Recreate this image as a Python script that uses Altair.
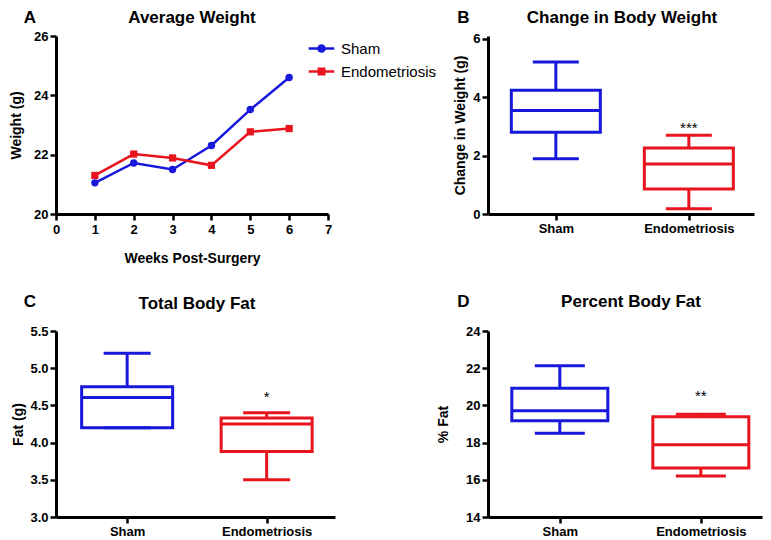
import altair as alt
import pandas as pd

FONT = "Liberation Sans"
BLUE = "#1818DC"
RED = "#E8141E"

# ---- data ----
groups = ["Sham", "Endometriosis"]
weeks = [1, 2, 3, 4, 5, 6]
sham_weight = [21.05, 21.72, 21.50, 22.31, 23.52, 24.60]
endo_weight = [21.30, 22.02, 21.89, 21.64, 22.77, 22.88]

# box statistics: [min, q1, median, q3, max]
bw_sham = [1.89, 2.80, 3.55, 4.24, 5.21]
bw_endo = [0.18, 0.86, 1.71, 2.26, 2.70]
fat_sham = [4.20, 4.20, 4.605, 4.75, 5.20]
fat_endo = [3.50, 3.88, 4.25, 4.33, 4.40]
pct_sham = [18.50, 19.18, 19.71, 20.92, 22.13]
pct_endo = [16.20, 16.63, 17.89, 19.39, 19.52]

stars = ["***", "*", "**"]
star_vals = [2.78, 4.54, 20.23]

titles = ["Average Weight", "Change in Body Weight", "Total Body Fat", "Percent Body Fat"]
letters = ["A", "B", "C", "D"]
y_titles = ["Weight (g)", "Change in Weight (g)", "Fat (g)", "% Fat"]
x_title_a = "Weeks Post-Surgery"

color_scale = alt.Scale(domain=groups, range=[BLUE, RED])


def label_layers(letter, title, lx, ly, tx, ty):
    let = alt.Chart(pd.DataFrame({"t": [letter]})).mark_text(
        font=FONT, fontSize=17, fontWeight="bold", color="black",
        align="center", baseline="alphabetic"
    ).encode(x=alt.value(lx), y=alt.value(ly), text="t:N")
    tit = alt.Chart(pd.DataFrame({"t": [title]})).mark_text(
        font=FONT, fontSize=17, fontWeight="bold", color="black",
        align="center", baseline="alphabetic"
    ).encode(x=alt.value(tx), y=alt.value(ty), text="t:N")
    return [let, tit]


# ---- Panel A ----
wa, ha = 272, 178
dfa = pd.DataFrame({
    "week": weeks + weeks,
    "weight": sham_weight + endo_weight,
    "series": ["Sham"] * len(weeks) + ["Endometriosis"] * len(weeks),
})
xa = alt.X("week:Q", scale=alt.Scale(domain=[0, 7], nice=False),
           axis=alt.Axis(values=list(range(8)), format="d", labelFlush=False,
                         title=x_title_a, titleX=wa / 2, titleY=48,
                         titleBaseline="alphabetic", labelPadding=3))
ya = alt.Y("weight:Q", scale=alt.Scale(domain=[20, 26], nice=False, zero=False),
           axis=alt.Axis(values=[20, 22, 24, 26], title=y_titles[0],
                         titleX=-40, titleY=ha / 2, titleBaseline="middle"))

sham_df = dfa[dfa.series == "Sham"]
endo_df = dfa[dfa.series == "Endometriosis"]
line_s = alt.Chart(sham_df).mark_line(color=BLUE, strokeWidth=2.5).encode(x=xa, y=ya)
line_e = alt.Chart(endo_df).mark_line(color=RED, strokeWidth=2.5).encode(x=xa, y=ya)
pt_s = alt.Chart(sham_df).mark_point(shape="circle", filled=True, size=55, color=BLUE, opacity=1).encode(x=xa, y=ya)
pt_e = alt.Chart(endo_df).mark_point(shape="square", filled=True, size=52, color=RED, opacity=1).encode(x=xa, y=ya)

circle_path = "M-1.6,0L1.6,0M0.38,0A0.38,0.38,0,1,1,-0.38,0A0.38,0.38,0,1,1,0.38,0Z"
square_path = "M-1.6,0L1.6,0M-0.34,-0.34L0.34,-0.34L0.34,0.34L-0.34,0.34Z"
leg = alt.Legend(title=None, orient="none", legendX=256, legendY=3,
                 symbolSize=256, symbolStrokeWidth=2.5, symbolOpacity=1,
                 labelFont=FONT, labelFontSize=15, labelFontWeight="normal",
                 labelColor="black", labelOffset=10, rowPadding=5, padding=0)
leg_layer = alt.Chart(dfa).mark_point(opacity=0).encode(
    x=xa, y=ya,
    color=alt.Color("series:N", scale=color_scale, legend=leg),
    fill=alt.Fill("series:N", scale=color_scale, legend=leg),
    shape=alt.Shape("series:N", scale=alt.Scale(domain=groups, range=[circle_path, square_path]), legend=leg),
)

panel_a = alt.layer(
    line_s, line_e, pt_s, pt_e, leg_layer,
    *label_layers(letters[0], titles[0], -26, -13.5, wa / 2, -13.5)
).properties(width=wa, height=ha)


# ---- box panels ----
def box_panel(s, e, star, star_val, ydomain, yticks, ytitle, w, h, box_w, cap_w,
              xscale, ytitle_x, fmt, letter, title, lx, ly, tx, ty):
    df = pd.DataFrame({
        "group": groups,
        "lo": [s[0], e[0]], "q1": [s[1], e[1]], "med": [s[2], e[2]],
        "q3": [s[3], e[3]], "hi": [s[4], e[4]],
    })
    yscale = alt.Scale(domain=ydomain, nice=False, zero=False)
    yaxis = alt.Axis(values=yticks, format=fmt, title=ytitle, titleX=ytitle_x,
                     titleY=h / 2, titleBaseline="middle")
    x = alt.X("group:N", scale=xscale, sort=groups,
              axis=alt.Axis(title=None, labelAngle=0, labelPadding=2))
    col = alt.Color("group:N", scale=color_scale, legend=None)

    def Y(f):
        return alt.Y(f, scale=yscale, axis=yaxis)

    base = alt.Chart(df).encode(x=x, color=col)
    box = base.mark_bar(filled=False, size=box_w, strokeWidth=3, opacity=1).encode(y=Y("q1:Q"), y2="q3:Q")
    wh_up = base.mark_rule(strokeWidth=3, opacity=1).encode(y=Y("q3:Q"), y2="hi:Q")
    wh_lo = base.mark_rule(strokeWidth=3, opacity=1).encode(y=Y("lo:Q"), y2="q1:Q")
    cap_up = base.mark_tick(size=cap_w, thickness=3, opacity=1).encode(y=Y("hi:Q"))
    cap_lo = base.mark_tick(size=cap_w, thickness=3, opacity=1).encode(y=Y("lo:Q"))
    med = base.mark_tick(size=box_w, thickness=3, opacity=1).encode(y=Y("med:Q"))
    sdf = pd.DataFrame({"group": ["Endometriosis"], "val": [star_val], "label": [star]})
    st = alt.Chart(sdf).mark_text(font=FONT, fontSize=15, color="black",
                                  baseline="alphabetic", align="center").encode(
        x=x, y=Y("val:Q"), text="label:N")
    return alt.layer(
        box, wh_up, wh_lo, cap_up, cap_lo, med, st,
        *label_layers(letter, title, lx, ly, tx, ty)
    ).properties(width=w, height=h)


panel_b = box_panel(bw_sham, bw_endo, stars[0], star_vals[0], [0, 6.1], [0, 2, 4, 6],
                    y_titles[1], 266, 178, 89, 46,
                    alt.Scale(type="point", domain=groups, padding=0.5, align=0.51),
                    -28, "d", letters[1], titles[1], -24.5, -13.5, 134, -13.5)
panel_c = box_panel(fat_sham, fat_endo, stars[1], star_vals[1], [3.0, 5.5],
                    [3.0, 3.5, 4.0, 4.5, 5.0, 5.5], y_titles[2], 279, 186, 91, 47,
                    alt.Scale(type="point", domain=groups, padding=0.5, align=0.51),
                    -38, ".1f", letters[2], titles[2], -26, -24, 141, -22)
panel_d = box_panel(pct_sham, pct_endo, stars[2], star_vals[2], [14, 24],
                    [14, 16, 18, 20, 22, 24], y_titles[3], 274, 186, 96, 50,
                    alt.Scale(type="point", domain=groups, padding=0.4716, align=0.54),
                    -45, "d", letters[3], titles[3], -24.5, -24, 143, -24)

chart = alt.concat(
    panel_a, panel_b, panel_c, panel_d, columns=2,
    spacing={"row": 117, "column": 153}, bounds="flush"
).properties(
    padding={"left": 0, "top": 0, "right": 0, "bottom": 0},
    background="white"
).resolve_scale(
    color="independent", fill="independent", shape="independent"
).configure_axis(
    domainColor="black", domainWidth=3, tickColor="black", tickWidth=2.5, tickSize=6,
    labelColor="black", labelFont=FONT, labelFontSize=13, labelFontWeight="bold",
    labelPadding=2, titleColor="black", titleFont=FONT, titleFontSize=14,
    titleFontWeight="bold", grid=False
).configure_view(stroke="transparent")

chart.save("out.html", embed_options={"renderer": "svg", "actions": False})
